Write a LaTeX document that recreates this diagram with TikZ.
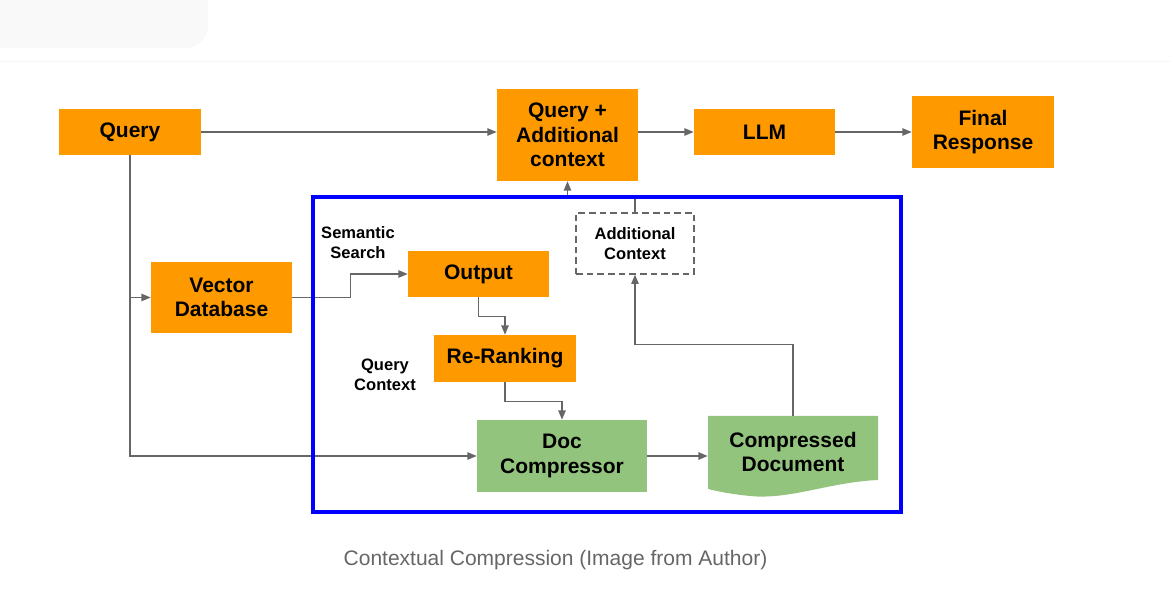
\documentclass[tikz,border=0pt]{standalone}
\usepackage{fontspec}
\setmainfont{Liberation Sans}
\usetikzlibrary{arrows.meta}
\definecolor{boxorange}{HTML}{FF9900}
\definecolor{boxgreen}{HTML}{93C47D}
\definecolor{linegray}{HTML}{666666}
\definecolor{captiongray}{HTML}{666666}
\definecolor{framegray}{HTML}{F9F9F9}
\tikzset{obox/.style={fill=boxorange,inner sep=0pt,align=center,
        font=\fontsize{15.75}{18.5}\selectfont\bfseries},
    gbox/.style={obox,fill=boxgreen},
    lbl/.style={align=center,font=\fontsize{12.4}{15}\selectfont\bfseries},
    conn/.style={draw=linegray,line width=1.1pt,-{Triangle[length=7pt,width=5.5pt]}}}

\begin{document}
\begin{tikzpicture}[x=0.75pt,y=-0.75pt]

        \useasboundingbox (0,0) rectangle (1171,616);
        \fill[framegray,rounded corners=17pt] (-60,-40) rectangle (208,48);
        \draw[framegray!70!gray!20,line width=0.8pt] (0,61.5) -- (1171,61.5);

        \node[obox,minimum width=106.5pt,minimum height=34.5pt] (query) at (130,132) {Query};
        \node[obox,minimum width=105.75pt,minimum height=69pt] (qa) at (567.5,135)
            {Query +\\Additional\\context};
        \node[obox,minimum width=105.75pt,minimum height=34.5pt] (llm) at (764.5,132) {LLM};
        \node[obox,minimum width=106.5pt,minimum height=54pt] (final) at (983,132)
            {Final\\Response};
        \node[obox,minimum width=105.75pt,minimum height=53.25pt] (vdb) at (221.5,297.5)
            {Vector\\Database};
        \node[obox,minimum width=105.75pt,minimum height=34.5pt] (out) at (478.5,274) {Output};
        \node[obox,minimum width=106.5pt,minimum height=35.25pt] (rr) at (505,358.5) {Re-Ranking};
        \node[gbox,minimum width=127.5pt,minimum height=54pt] (doc) at (562,456)
            {Doc\\Compressor};
        \fill[boxgreen] (708,416) -- (878,416) -- (878,480)
            .. controls (830,482) and (790,500) .. (750,496)
            .. controls (730,494) and (716,491) .. (708,489) -- cycle;
        \node[obox,fill=none,minimum width=127.5pt,minimum height=54pt] (cdoc) at (793,452)
            {Compressed\\Document};
        \node[lbl,draw=linegray,line width=0.9pt,dash pattern=on 5pt off 3pt,
            minimum width=88.5pt,minimum height=45.75pt] (ac) at (635,243.5)
            {Additional\\Context};
        \node[lbl] (sem) at (358,243) {Semantic\\Search};
        \node[lbl] (qctx) at (385,375) {Query\\Context};

        \draw[conn] (query.east) -- (query.east -| qa.west);
        \draw[conn] (qa.east |- llm.west) -- (llm.west);
        \draw[conn] (llm.east) -- (final.west);
        \draw[conn] (query.south) |- (doc.west);
        \draw[conn] (query.south |- vdb.west) -- (vdb.west);
        \draw[conn] (vdb.east) -- ++(58,0) |- (out.west);
        \draw[conn] (out.south) -- ++(0,19) -| (rr.north);
        \draw[conn] (rr.south) -- ++(0,19) -| (doc.north);
        \draw[conn] (doc.east) -- (doc.east -| cdoc.west);
        \draw[conn] (cdoc.north) -- ++(0,-71) -| (ac.south);
        \draw[conn] (ac.north) -- ++(0,-16) -| (qa.south);

        \draw[blue,line width=2.6pt] (313,197) rectangle (901,512);

        \node[text=captiongray,font=\fontsize{15.75}{18}\selectfont] (cap) at (555.5,560)
            {Contextual Compression (Image from Author)};

    \end{tikzpicture}
\end{document}
